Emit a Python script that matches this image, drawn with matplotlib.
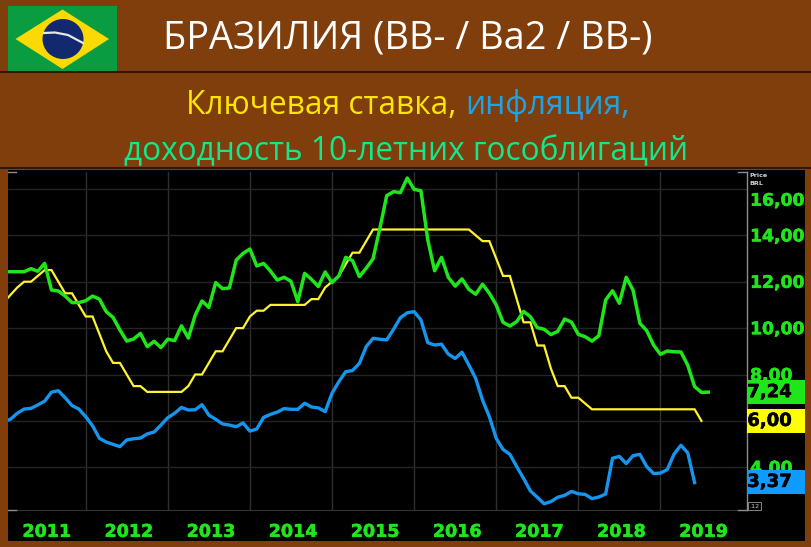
import numpy as np
import matplotlib
matplotlib.use("Agg")
import matplotlib.pyplot as plt
import matplotlib.patheffects as pe
from matplotlib.patches import Rectangle, Polygon, Ellipse

# monthly values, first point is Jan 2011 (index / 12 years after 2011.0)
green = [12.43, 12.43, 12.43, 12.43, 12.56, 12.45, 12.79, 11.64, 11.60, 11.38, 11.10, 11.10,
         11.18, 11.38, 11.25, 10.71, 10.46, 9.92, 9.44, 9.53, 9.77, 9.20, 9.43, 9.16,
         9.52, 9.46, 10.10, 9.57, 10.55, 11.17, 10.89, 11.96, 11.70, 11.73, 12.93, 13.22,
         13.41, 12.68, 12.79, 12.46, 12.07, 12.19, 12.02, 11.14, 12.36, 12.10, 11.79, 12.42,
         11.96, 12.25, 13.05, 12.91, 12.22, 12.58, 12.99, 14.30, 15.71, 15.88, 15.84, 16.47,
         15.98, 15.92, 13.80, 12.47, 13.05, 12.19, 11.81, 12.12, 11.67, 11.46, 11.89, 11.50,
         11.00, 10.25, 10.09, 10.28, 10.72, 10.49, 10.02, 9.95, 9.72, 9.86, 10.39, 10.26,
         9.73, 9.63, 9.44, 9.67, 11.21, 11.61, 11.07, 12.19, 11.64, 10.21, 9.89, 9.27,
         8.87, 9.01, 8.98, 8.97, 8.40, 7.48, 7.23, 7.24]
yellow = [11.10, 11.43, 11.75, 12.0, 12.0, 12.25, 12.5, 12.5, 12.0, 11.5, 11.5, 11.0,
          10.5, 10.5, 9.75, 9.0, 8.5, 8.5, 8.0, 7.5, 7.5, 7.25, 7.25, 7.25,
          7.25, 7.25, 7.25, 7.5, 8.0, 8.0, 8.5, 9.0, 9.0, 9.5, 10.0, 10.0,
          10.5, 10.75, 10.75, 11.0, 11.0, 11.0, 11.0, 11.0, 11.0, 11.25, 11.25, 11.75,
          12.0, 12.25, 12.75, 13.25, 13.25, 13.75, 14.25, 14.25, 14.25, 14.25, 14.25, 14.25,
          14.25, 14.25, 14.25, 14.25, 14.25, 14.25, 14.25, 14.25, 14.25, 14.0, 13.75, 13.75,
          13.0, 12.25, 12.25, 11.25, 10.25, 10.25, 9.25, 9.25, 8.25, 7.5, 7.5, 7.0,
          7.0, 6.75, 6.5, 6.5, 6.5, 6.5, 6.5, 6.5, 6.5, 6.5, 6.5, 6.5,
          6.5, 6.5, 6.5, 6.5, 6.5, 6.5, 6.0]
blue = [5.97, 6.07, 6.33, 6.51, 6.54, 6.69, 6.85, 7.24, 7.30, 7.00, 6.66, 6.51,
        6.18, 5.79, 5.25, 5.09, 4.99, 4.89, 5.18, 5.23, 5.26, 5.44, 5.52, 5.82,
        6.14, 6.33, 6.58, 6.47, 6.48, 6.70, 6.25, 6.07, 5.87, 5.82, 5.75, 5.91,
        5.56, 5.65, 6.15, 6.28, 6.38, 6.53, 6.50, 6.50, 6.76, 6.60, 6.56, 6.40,
        7.19, 7.69, 8.12, 8.17, 8.48, 9.20, 9.56, 9.52, 9.49, 9.95, 10.45, 10.66,
        10.71, 10.35, 9.37, 9.27, 9.31, 8.88, 8.69, 8.96, 8.41, 7.83, 6.90, 6.18,
        5.25, 4.77, 4.56, 4.03, 3.52, 2.98, 2.71, 2.43, 2.52, 2.71, 2.79, 2.96,
        2.86, 2.83, 2.65, 2.72, 2.85, 4.39, 4.47, 4.16, 4.50, 4.56, 4.03, 3.73,
        3.75, 3.90, 4.57, 4.95, 4.62, 3.34]

years = [2011, 2012, 2013, 2014, 2015, 2016, 2017, 2018, 2019]
y_ticks = [4, 6, 8, 10, 12, 14, 16]
y_labels = ["4,00", "", "8,00", "10,00", "12,00", "14,00", "16,00"]
last_values = [7.24, 6.00, 3.37]
last_labels = ["7,24", "6,00", "3,37"]

BROWN = "#7f3e0c"
LINE_GREEN = "#1ee61a"
LINE_YELLOW = "#fff22e"
LINE_BLUE = "#1596ee"

W, H = 811, 547
fig = plt.figure(figsize=(W / 100, H / 100), dpi=100, facecolor=BROWN)

# background layer in pixel coordinates: header, flag, black panel
bg = fig.add_axes([0, 0, 1, 1])
bg.set_xlim(0, W)
bg.set_ylim(H, 0)
bg.axis("off")
bg.plot([0, W], [72.3, 72.3], color="#1c0d02", lw=1.1)
bg.plot([0, W], [168.2, 168.2], color="#1c0d02", lw=1.1)
bg.add_patch(Rectangle((8, 170), 797, 371, color="black", lw=0))

bg.add_patch(Rectangle((8, 6), 109, 65, color="#0a9c40", lw=0))
bg.add_patch(Polygon([(15.5, 39), (62.5, 9.5), (109, 39), (62.5, 69)], color="#fcd900", lw=0))
bg.add_patch(Ellipse((63, 39), 41, 40, color="#12296f", lw=0))
bg.plot([44, 55, 68, 83], [33, 32.5, 35, 43], color="#e6e6e6", lw=1.6)

TITLE_FONT = "Open Sans"
bg.text(408, 38.5, "БРАЗИЛИЯ (BB- / Ba2 / BB-)", color="white", fontsize=27.3,
        family=TITLE_FONT, ha="center", va="center")
bg.text(186, 105, "Ключевая ставка,", color="#ffe600", fontsize=22.8,
        family=TITLE_FONT, ha="left", va="center")
bg.text(465, 105, "инфляция,", color="#1ca4e8", fontsize=22.8,
        family=TITLE_FONT, ha="left", va="center")
bg.text(406, 151.5, "доходность 10-летних гособлигаций", color="#14e68c", fontsize=22.8,
        family=TITLE_FONT, ha="center", va="center")

# chart, axes limits set from the pixel positions of the gridlines
left, right, top, bottom = 8, 746.7, 172, 510.3
ax = fig.add_axes([left / W, 1 - bottom / H, (right - left) / W, (bottom - top) / H])
ax.set_facecolor("black")
x_per_px = 1 / 82.1
ax.set_xlim(2011 + (left - 3.6) * x_per_px, 2011 + (right - 3.6) * x_per_px)
y_per_px = 1 / 23.2
ax.set_ylim(4 + (467.3 - bottom) * y_per_px, 4 + (467.3 - top) * y_per_px)

def months(series):
    return 2011 + np.arange(len(series)) / 12

ax.plot(months(yellow), yellow, color=LINE_YELLOW, lw=1.6, zorder=3, solid_joinstyle="miter")
ax.plot(months(blue), blue, color=LINE_BLUE, lw=2.4, zorder=4)
ax.plot(months(green), green, color=LINE_GREEN, lw=2.5, zorder=5)

ax.set_xticks(years[1:])
ax.set_yticks(y_ticks)
ax.set_xticklabels([])
ax.set_yticklabels([])
ax.tick_params(length=0)
ax.grid(True, axis="x", color="#2e2e2e", lw=1.0)
ax.grid(True, axis="y", color="#242424", lw=1.0)
ax.set_axisbelow(True)
for side in ["top", "left"]:
    ax.spines[side].set_visible(False)
ax.spines["bottom"].set_color("#333333")
ax.spines["right"].set_color("#8c8c8c")
ax.spines["right"].set_linewidth(1.0)

# the terminal font is heavier than DejaVu bold, thicken it a little
heavy_green = [pe.withStroke(linewidth=0.4, foreground=LINE_GREEN)]
heavy_black = [pe.withStroke(linewidth=0.4, foreground="black")]

# year labels sit in the middle of each year
for yr in years:
    ax.annotate(str(yr), (yr + 0.5, 0), xycoords=("data", "axes fraction"),
                xytext=(1.5, -15.5), textcoords="offset points", color=LINE_GREEN,
                fontsize=12.6, fontweight="bold", ha="center", va="center",
                annotation_clip=False, path_effects=heavy_green)

# price labels, the top one is pushed down under the Price/BRL note
for val, lbl in zip(y_ticks, y_labels):
    dy = -8.5 if val == 16 else -0.8
    ax.annotate(lbl, (1, val), xycoords=("axes fraction", "data"), xytext=(2.4, dy),
                textcoords="offset points", color=LINE_GREEN, fontsize=12.4,
                fontweight="bold", ha="left", va="center", annotation_clip=False, zorder=6,
                path_effects=heavy_green)

# last value boxes
trans = ax.get_yaxis_transform()
box_colors = [LINE_GREEN, "#ffff00", "#0f9bff"]
for val, lbl, col in zip(last_values, last_labels, box_colors):
    ax.add_patch(Rectangle((1, val - 0.51), 58.3 / (right - left), 1.02, transform=trans,
                           color=col, lw=0, clip_on=False, zorder=7))
    ax.annotate(lbl, (1, val), xycoords=("axes fraction", "data"), xytext=(0.4, 0),
                textcoords="offset points", color="black", fontsize=13,
                fontweight="bold", ha="left", va="center", annotation_clip=False, zorder=8,
                path_effects=heavy_black)

# small notes on the right axis
fg = fig.add_axes([0, 0, 1, 1])
fg.set_xlim(0, W)
fg.set_ylim(H, 0)
fg.axis("off")
fg.text(749, 175.5, "Price", color="#cfcfcf", fontsize=4.6, fontweight="bold", va="center")
fg.text(749, 183.5, "BRL", color="#cfcfcf", fontsize=4.6, fontweight="bold", va="center")
fg.text(754.5, 506, ".12", color="#cfcfcf", fontsize=4.6, ha="center", va="center",
        bbox=dict(boxstyle="square,pad=0.2", fc="black", ec="#9a9a9a", lw=0.6))
fg.plot([738, right], [172, 172], color="#8c8c8c", lw=1)
fg.plot([738, right], [bottom, bottom], color="#8c8c8c", lw=1)
fg.plot([8, 16], [172, 172], color="#8c8c8c", lw=1)
fg.plot([8, 16], [bottom, bottom], color="#8c8c8c", lw=1)

fig.savefig("out.png", dpi=100, facecolor=BROWN)
